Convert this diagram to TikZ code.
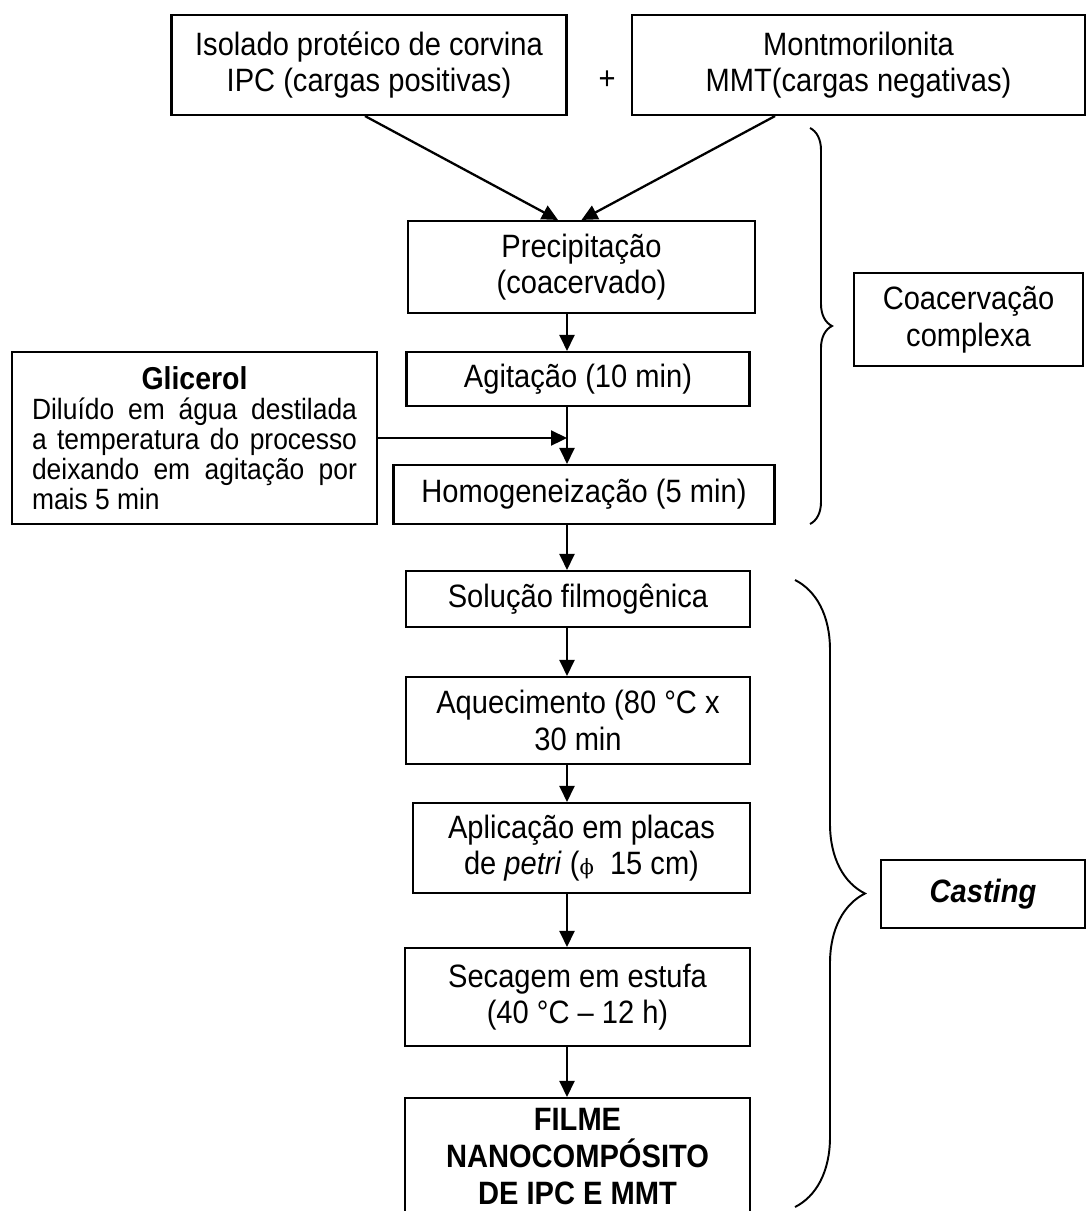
\documentclass[tikz,border=0pt]{standalone}
\usepackage{fontspec}
\setmainfont[FakeStretch=0.9]{Liberation Sans}
\newfontfamily\simbolo{DejaVu Serif}
\usetikzlibrary{positioning,arrows.meta,decorations.pathreplacing}

\begin{document}
\begin{tikzpicture}[x=0.02cm, y=-0.02cm,
    etapa/.style={rectangle, draw, line width=1.2pt, align=center, inner sep=0pt, font=\fontsize{18.4}{20.8}\selectfont},
    seta/.style={line width=1.3pt, -{Triangle[length=0.32cm, width=0.3cm]}},
    chave/.style={line width=1.1pt, decorate, decoration={brace, amplitude=#1}}]
    \useasboundingbox (0,0) rectangle (1088,1211);
    \coordinate (eixo) at (567,0);

    \node[etapa, minimum width=7.9cm, minimum height=2cm] (ipc) at (369,65) {Isolado protéico de corvina\\IPC (cargas positivas)};
    \node[etapa, minimum width=9.06cm, minimum height=2cm] (mmt) at (858.5,65) {Montmorilonita\\MMT(cargas negativas)};
    \node[font=\fontsize{18.4}{20.8}\selectfont] (mais) at (607,80) {+};

    \node[etapa, minimum width=6.94cm, minimum height=1.84cm] (precip) at (581.5,267) {Precipitação\\(coacervado)};
    \node[etapa, minimum width=6.86cm, minimum height=1.08cm] (agit) at (578,379) {Agitação (10 min)};
    \node[etapa, minimum width=7.62cm, minimum height=1.18cm] (homog) at (584,494.5) {Homogeneização (5 min)};
    \node[rectangle, draw, line width=1.2pt, minimum width=7.3cm, minimum height=3.44cm, inner xsep=0.4cm, inner ysep=0pt,
          text width=6.5cm, align=justify, font=\fontsize{16.7}{17}\selectfont] (glic) at (194.5,438)
        {{\centering\fontsize{18}{19.5}\selectfont\textbf{Glicerol}\par}Diluído em água destilada\linebreak a temperatura do processo\linebreak deixando em agitação por\linebreak mais 5 min};
    \node[etapa, minimum width=4.58cm, minimum height=1.86cm] (coac) at (968.5,319.5) {Coacervação\\complexa};

    \node[etapa, minimum width=6.88cm, minimum height=1.12cm] (solucao) at (578,599) {Solução filmogênica};
    \node[etapa, minimum width=6.88cm, minimum height=1.74cm] (aquec) at (578,720.5) {Aquecimento (80 °C x\\30 min};
    \node[etapa, minimum width=6.74cm, minimum height=1.8cm] (aplic) at (581.5,848) {Aplicação em placas\\de \textit{petri} ({\simbolo\fontsize{12}{12}\selectfont ϕ}\ \ 15 cm)};
    \node[etapa, minimum width=6.9cm, minimum height=1.96cm] (secag) at (577.5,997) {Secagem em estufa\\(40 °C – 12 h)};
    \node[etapa, minimum width=6.9cm, minimum height=2.34cm, font=\fontsize{18.4}{20.8}\selectfont\bfseries] (filme) at (577.5,1156.5) {FILME\\NANOCOMPÓSITO\\DE IPC E MMT};
    \node[etapa, minimum width=4.08cm, minimum height=1.36cm, font=\fontsize{18.4}{20.8}\selectfont\bfseries\itshape] (cast) at (983,894) {Casting};

    \draw[seta] ([xshift=-0.08cm]ipc.south) -- ([xshift=-0.47cm]precip.north);
    \draw[seta] ([xshift=-1.67cm]mmt.south) -- (precip.north);
    \draw[seta] (precip.south -| eixo) -- (agit.north -| eixo);
    \draw[seta] (agit.south -| eixo) -- (homog.north -| eixo);
    \draw[seta] (glic.east) -- (glic.east -| eixo);
    \draw[seta] (homog.south -| eixo) -- (solucao.north -| eixo);
    \draw[seta] (solucao.south -| eixo) -- (aquec.north -| eixo);
    \draw[seta] (aquec.south -| eixo) -- (aplic.north -| eixo);
    \draw[seta] (aplic.south -| eixo) -- (secag.north -| eixo);
    \draw[seta] (secag.south -| eixo) -- (filme.north -| eixo);

    \coordinate (c1a) at (810,128);
    \coordinate (c1b) at (810,524);
    \coordinate (c2a) at (795,580);
    \coordinate (c2b) at (795,1207);
    \draw[chave=0.44cm] (c1a) -- (c1b);
    \draw[chave=1.4cm] (c2a) -- (c2b);
\end{tikzpicture}
\end{document}
